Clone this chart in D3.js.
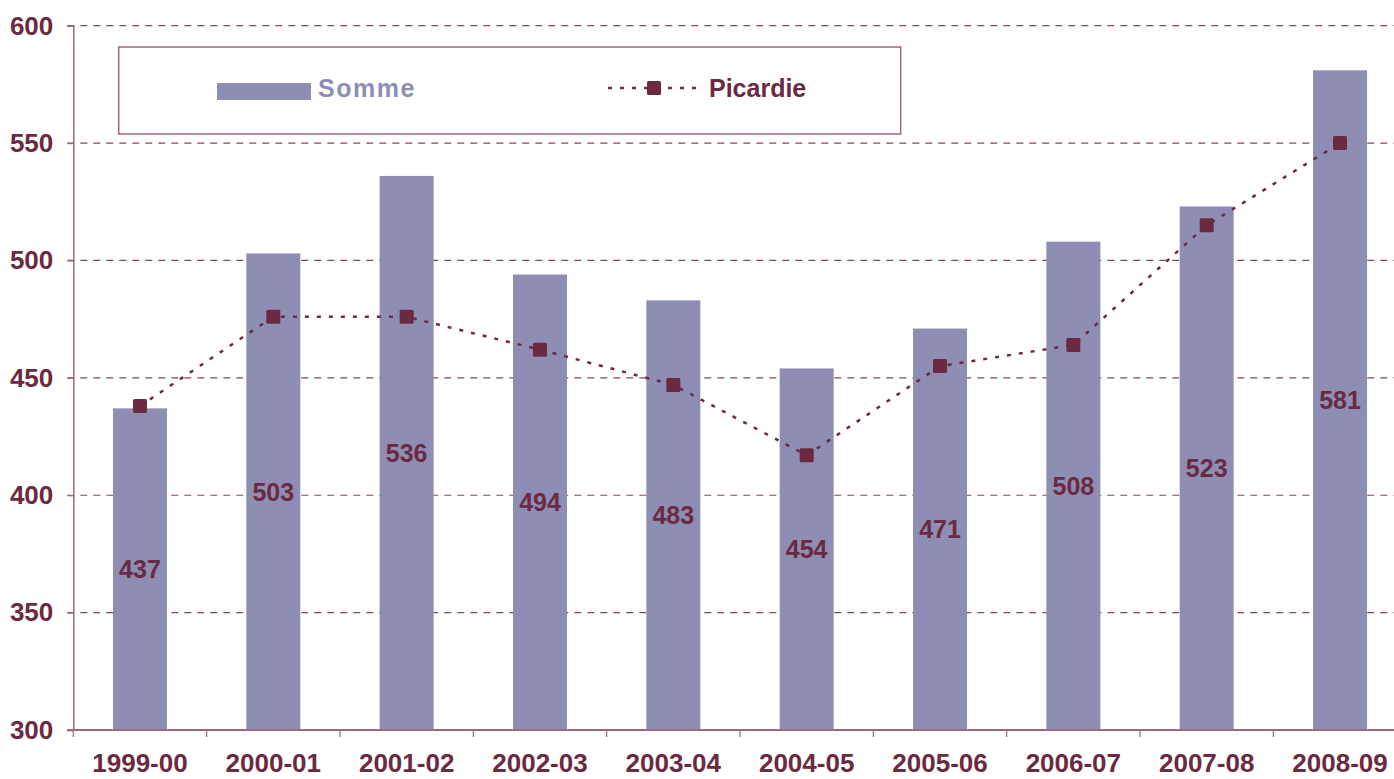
<!DOCTYPE html>
<html>
<head>
<meta charset="utf-8">
<script src="https://cdn.jsdelivr.net/npm/d3@7"></script>
<style>
  body { margin: 0; background: #fff; }
  svg { display: block; font-family: Arial, "Liberation Sans", sans-serif; font-weight: bold; }
</style>
</head>
<body>
<svg id="chart" width="1394" height="779"></svg>
<script>
// categories and series
const years = ['1999-00', '2000-01', '2001-02', '2002-03', '2003-04',
  '2004-05', '2005-06', '2006-07', '2007-08', '2008-09']
const somme = [437, 503, 536, 494, 483, 454, 471, 508, 523, 581]
const picardie = [438, 476, 476, 462, 447, 417, 455, 464, 515, 550]
const yTicks = [300, 350, 400, 450, 500, 550, 600]

const maroon = '#6b2a42'
const barColor = '#8e8eb4'
const axisColor = '#9a6a80'

const svg = d3.select('#chart')
const plotLeft = 73.3, plotRight = 1406.7, plotTop = 25.7, plotBottom = 730

const x = d3.scaleBand().domain(years).range([plotLeft, plotRight])
const y = d3.scaleLinear().domain([300, 600]).range([plotBottom, plotTop])
const barW = x.bandwidth() * 0.405
const cx = d => x(d) + x.bandwidth() / 2

// dashed gridlines (behind the bars)
svg.append('g')
  .selectAll('line')
  .data(yTicks)
  .enter()
  .append('line')
  .attr('x1', plotLeft - 6)
  .attr('x2', 1394)
  .attr('y1', d => y(d))
  .attr('y2', d => y(d))
  .attr('stroke', maroon)
  .attr('stroke-opacity', d => d === 300 ? 0 : 0.85)
  .attr('stroke-width', 1.2)
  .attr('stroke-dasharray', '7,6')

// bars
svg.append('g')
  .selectAll('rect')
  .data(years)
  .enter()
  .append('rect')
  .attr('x', (d) => cx(d) - barW / 2)
  .attr('y', (d, i) => y(somme[i]))
  .attr('width', barW)
  .attr('height', (d, i) => plotBottom - y(somme[i]))
  .attr('fill', barColor)

// y axis
const yAxis = svg.append('g')
  .attr('transform', `translate(${plotLeft},0)`)
  .call(d3.axisLeft(y).tickValues(yTicks).tickSize(6).tickPadding(14))
yAxis.select('.domain').attr('stroke', axisColor).attr('stroke-width', 1.5)
yAxis.selectAll('.tick line').attr('stroke', axisColor).attr('stroke-width', 1.2)
yAxis.selectAll('text')
  .attr('fill', maroon)
  .style('font-size', '26px')
  .style('font-weight', 'bold')
  .style('font-family', 'Arial, "Liberation Sans", sans-serif')

// x axis : baseline plus ticks between categories
const xAxis = svg.append('g')
xAxis.append('line')
  .attr('x1', plotLeft - 6).attr('x2', plotRight)
  .attr('y1', plotBottom).attr('y2', plotBottom)
  .attr('stroke', axisColor).attr('stroke-width', 2)
xAxis.selectAll('line.tk')
  .data(years)
  .enter()
  .append('line')
  .attr('class', 'tk')
  .attr('x1', d => x(d)).attr('x2', d => x(d))
  .attr('y1', plotBottom).attr('y2', plotBottom + 7)
  .attr('stroke', axisColor).attr('stroke-width', 1.2)
xAxis.selectAll('text')
  .data(years)
  .enter()
  .append('text')
  .attr('x', d => cx(d))
  .attr('y', 772)
  .attr('text-anchor', 'middle')
  .attr('fill', maroon)
  .style('font-size', '26px')
  .text(d => d)

// value labels in the middle of each bar
svg.append('g')
  .selectAll('text')
  .data(years)
  .enter()
  .append('text')
  .attr('x', d => cx(d))
  .attr('y', (d, i) => (y(somme[i]) + plotBottom) / 2 + 9)
  .attr('text-anchor', 'middle')
  .attr('fill', maroon)
  .style('font-size', '25px')
  .text((d, i) => somme[i])

// Picardie line + markers
const line = d3.line()
  .x((d, i) => cx(years[i]))
  .y(d => y(d))
svg.append('path')
  .datum(picardie)
  .attr('d', line)
  .attr('fill', 'none')
  .attr('stroke', maroon)
  .attr('stroke-width', 2.5)
  .attr('stroke-dasharray', '4,8')

svg.append('g')
  .selectAll('rect')
  .data(picardie)
  .enter()
  .append('rect')
  .attr('x', (d, i) => cx(years[i]) - 7)
  .attr('y', d => y(d) - 7)
  .attr('width', 14)
  .attr('height', 14)
  .attr('rx', 1.5)
  .attr('fill', maroon)

// legend
const legend = svg.append('g')
legend.append('rect')
  .attr('x', 118.7).attr('y', 47)
  .attr('width', 782).attr('height', 87)
  .attr('fill', '#fff')
  .attr('stroke', axisColor).attr('stroke-width', 1.5)
legend.append('rect')
  .attr('x', 217).attr('y', 83)
  .attr('width', 94).attr('height', 17)
  .attr('fill', barColor)
legend.append('text')
  .attr('x', 318).attr('y', 97)
  .attr('fill', barColor)
  .style('font-size', '25px')
  .style('letter-spacing', '1.5px')
  .text('Somme')
legend.append('line')
  .attr('x1', 608).attr('x2', 698)
  .attr('y1', 88).attr('y2', 88)
  .attr('stroke', maroon)
  .attr('stroke-width', 2.5)
  .attr('stroke-dasharray', '4,8')
legend.append('rect')
  .attr('x', 647).attr('y', 81)
  .attr('width', 14).attr('height', 14)
  .attr('rx', 1.5)
  .attr('fill', maroon)
legend.append('text')
  .attr('x', 709).attr('y', 97)
  .attr('fill', maroon)
  .style('font-size', '25px')
  .text('Picardie')
</script>
</body>
</html>
